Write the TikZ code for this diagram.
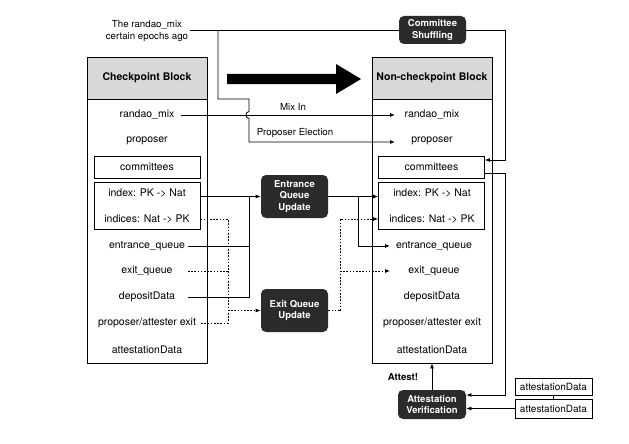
\documentclass[tikz,border=0pt]{standalone}
\usepackage{fontspec}
\setmainfont{TeX Gyre Heros}
\usetikzlibrary{arrows.meta}
\definecolor{hdr}{HTML}{D8D8D8}
\definecolor{procfill}{HTML}{2B2B2B}
\begin{document}
\begin{tikzpicture}[x=1pt,y=-1pt,
  font=\fontsize{10.5}{12}\selectfont,
  line width=0.8pt,
  rowtext/.style={inner sep=1pt},
  hdrbox/.style={draw, fill=hdr, minimum width=120pt, minimum height=42pt, font=\fontsize{10.5}{12}\selectfont\bfseries},
  bodybox/.style={draw, minimum width=120pt, minimum height=264pt},
  inbox/.style={draw, minimum width=106pt},
  proc/.style={fill=procfill, text=white, rounded corners=5pt, align=center, inner sep=2pt, font=\fontsize{9.5}{11.5}\selectfont\bfseries},
  lbl/.style={inner sep=1pt, font=\fontsize{9.7}{12}\selectfont},
  arr/.style={-{Latex[length=5pt,width=4pt]}},
  dotln/.style={dash pattern=on 1.6pt off 1.6pt}
]
\useasboundingbox (0,0) rectangle (629,444);

% ---- left block
\node[bodybox] (lbody) at (147,231) {};
\node[hdrbox] (lhead) at (147,78) {Checkpoint Block};
\node[rowtext] (lrandao) at (147,115) {randao\_mix};
\node[rowtext] (lprop) at (147,141) {proposer};
\node[inbox, minimum height=22pt] (lcomm) at (147,167) {committees};
\node[inbox, minimum height=47pt] (lidx) at (147,206) {};
\node[rowtext] (lindex) at (147,193) {index: PK -> Nat};
\node[rowtext] (lindices) at (147,219) {indices: Nat -> PK};
\node[rowtext] (lentq) at (147,246) {entrance\_queue};
\node[rowtext] (lexitq) at (147,271) {exit\_queue};
\node[rowtext] (ldep) at (147,297) {depositData};
\node[rowtext] (lpae) at (147,323) {proposer/attester exit};
\node[rowtext] (latt) at (147,350) {attestationData};

% ---- right block
\node[bodybox] (rbody) at (432,231) {};
\node[hdrbox] (rhead) at (432,78) {Non-checkpoint Block};
\node[rowtext] (rrandao) at (432,115) {randao\_mix};
\node[rowtext] (rprop) at (432,141) {proposer};
\node[inbox, minimum height=22pt] (rcomm) at (431.5,167) {committees};
\node[inbox, minimum height=47pt] (ridx) at (431.5,206) {};
\node[rowtext] (rindex) at (432,193) {index: PK -> Nat};
\node[rowtext] (rindices) at (432,219) {indices: Nat -> PK};
\node[rowtext] (rentq) at (434,246) {entrance\_queue};
\node[rowtext] (rexitq) at (434,271) {exit\_queue};
\node[rowtext] (rdep) at (432,297) {depositData};
\node[rowtext] (rpae) at (432,323) {proposer/attester exit};
\node[rowtext] (ratt) at (432,350) {attestationData};

% connector anchor columns
\coordinate (lx) at (188,0);
\coordinate (rxa) at (395,0);
\coordinate (rxb) at (390,0);

% ---- big arrow
\fill (227,74) -- (336,74) -- (336,64) -- (361,79) -- (336,94) -- (336,84) -- (227,84) -- cycle;

% ---- top text and shuffling
\node[lbl, align=center] (ago) at (147,31) {The randao\_mix\\certain epochs ago};
\node[proc, minimum width=67pt, minimum height=28pt] (shuf) at (432.5,30) {Committee\\Shuffling};
\coordinate (tj) at (218,30.5);
\draw (ago.east |- tj) -- (shuf.west |- tj);
\coordinate (sh1) at (505,160);
\draw[arr] (shuf.east |- tj) -| (sh1) -- (sh1 -| rcomm.east);

% ---- mix in / proposer election
\coordinate (pe1) at (249,99);
\coordinate (pe2) at (249,142);
\draw[arr] (tj) -- (tj |- pe1) -- (pe1) -- (249,111.5) .. controls (245,111.5) and (245,118.5) .. (249,118.5) -- (pe2) -- (pe2 -| rxa);
\draw[arr] ([xshift=5pt]lrandao.east) -- (rxa |- lrandao);
\node[lbl] (mixin) at (293,107) {Mix In};
\node[lbl] (pel) at (295,133) {Proposer Election};

% ---- process nodes
\node[proc, minimum width=67pt, minimum height=43pt] (eqn) at (294.5,196.5) {Entrance\\Queue\\Update};
\node[proc, minimum width=67pt, minimum height=43pt] (xqn) at (294.5,310.5) {Exit Queue\\Update};

% entrance inputs
\coordinate (ej) at (249,196.5);
\draw[arr] (lidx.east |- eqn.west) -- (eqn.west);
\draw (lx |- lentq) -| (ej);
\draw (lx |- ldep) -| (ej);
% exit inputs (dotted)
\coordinate (xj) at (228,310.5);
\draw[dotln] (lidx.east |- lindices) -| (xj |- lpae) -- ([xshift=3pt]lpae.east);
\draw[dotln] (lx |- lexitq) -- (xj |- lexitq);
\draw[dotln, arr] (xj) -- (xqn.west);

% entrance outputs
\coordinate (ej2) at (358,196.5);
\draw[arr] (eqn.east) -- (ridx.west |- eqn.east);
\draw[arr] (ej2) |- (rxb |- rentq);
% exit outputs
\coordinate (xj2) at (340,310.5);
\draw[dotln] (xqn.east) -- (xj2);
\draw[dotln, arr] (xj2) |- (ridx.west |- rindices);
\draw[dotln, arr] (xj2 |- rexitq) -- (rxb |- rexitq);

% ---- attestation
\node[proc, minimum width=68pt, minimum height=29pt] (av) at (432,404.5) {Attestation\\Verification};
\node[font=\fontsize{9.6}{11}\selectfont\bfseries, inner sep=1pt] (attest) at (403,377) {Attest!};
\draw[arr] (av.north) -- (rbody.south);
\node[draw, minimum width=77pt, minimum height=17pt, inner sep=1pt, font=\fontsize{10}{12}\selectfont] (ad1) at (553.5,386.5) {attestationData};
\node[draw, minimum width=77pt, minimum height=19pt, inner sep=1pt, font=\fontsize{10}{12}\selectfont] (ad2) at (553.5,408.5) {attestationData};
\draw (ad1.south) -- (ad2.north);
\draw[arr] (ad2.west) -- (av.east |- ad2.west);
\coordinate (cm1) at (505,173);
\coordinate (cm2) at (505,395);
\draw[arr] (rcomm.east |- cm1) -- (cm1) -- (cm2) -- (cm2 -| av.east);
\end{tikzpicture}
\end{document}
